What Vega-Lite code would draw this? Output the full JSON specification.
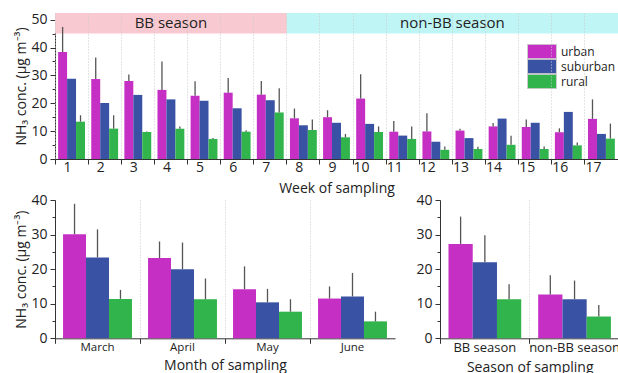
{
  "$schema": "https://vega.github.io/schema/vega-lite/v6.json",
  "padding": {"left": 14, "top": 12, "right": 0, "bottom": 0},
  "background": "white",
  "datasets": {
    "weekly": [
      {"week": 1, "site": "urban", "value": 38.4, "upper": 47.4},
      {"week": 1, "site": "suburban", "value": 28.8, "upper": null},
      {"week": 1, "site": "rural", "value": 13.4, "upper": 15.7},
      {"week": 2, "site": "urban", "value": 28.7, "upper": 36.4},
      {"week": 2, "site": "suburban", "value": 20.1, "upper": null},
      {"week": 2, "site": "rural", "value": 10.9, "upper": 15.7},
      {"week": 3, "site": "urban", "value": 28.0, "upper": 30.3},
      {"week": 3, "site": "suburban", "value": 23.0, "upper": null},
      {"week": 3, "site": "rural", "value": 9.7, "upper": 9.9},
      {"week": 4, "site": "urban", "value": 24.8, "upper": 35.0},
      {"week": 4, "site": "suburban", "value": 21.4, "upper": null},
      {"week": 4, "site": "rural", "value": 10.9, "upper": 11.7},
      {"week": 5, "site": "urban", "value": 22.7, "upper": 27.9},
      {"week": 5, "site": "suburban", "value": 20.9, "upper": null},
      {"week": 5, "site": "rural", "value": 7.2, "upper": 7.5},
      {"week": 6, "site": "urban", "value": 23.8, "upper": 29.1},
      {"week": 6, "site": "suburban", "value": 18.2, "upper": null},
      {"week": 6, "site": "rural", "value": 9.8, "upper": 10.3},
      {"week": 7, "site": "urban", "value": 23.1, "upper": 28.0},
      {"week": 7, "site": "suburban", "value": 21.1, "upper": null},
      {"week": 7, "site": "rural", "value": 16.7, "upper": 25.4},
      {"week": 8, "site": "urban", "value": 14.6, "upper": 18.1},
      {"week": 8, "site": "suburban", "value": 12.1, "upper": null},
      {"week": 8, "site": "rural", "value": 10.4, "upper": 14.2},
      {"week": 9, "site": "urban", "value": 15.0, "upper": 17.5},
      {"week": 9, "site": "suburban", "value": 13.0, "upper": null},
      {"week": 9, "site": "rural", "value": 7.8, "upper": 9.0},
      {"week": 10, "site": "urban", "value": 21.7, "upper": 30.4},
      {"week": 10, "site": "suburban", "value": 12.6, "upper": null},
      {"week": 10, "site": "rural", "value": 9.7, "upper": 11.7},
      {"week": 11, "site": "urban", "value": 9.8, "upper": 13.6},
      {"week": 11, "site": "suburban", "value": 8.4, "upper": null},
      {"week": 11, "site": "rural", "value": 7.2, "upper": 11.7},
      {"week": 12, "site": "urban", "value": 9.9, "upper": 16.4},
      {"week": 12, "site": "suburban", "value": 6.2, "upper": null},
      {"week": 12, "site": "rural", "value": 3.3, "upper": 4.5},
      {"week": 13, "site": "urban", "value": 10.2, "upper": 10.9},
      {"week": 13, "site": "suburban", "value": 7.5, "upper": null},
      {"week": 13, "site": "rural", "value": 3.6, "upper": 4.4},
      {"week": 14, "site": "urban", "value": 11.7, "upper": 12.9},
      {"week": 14, "site": "suburban", "value": 14.5, "upper": null},
      {"week": 14, "site": "rural", "value": 5.1, "upper": 8.3},
      {"week": 15, "site": "urban", "value": 11.5, "upper": 14.2},
      {"week": 15, "site": "suburban", "value": 13.0, "upper": null},
      {"week": 15, "site": "rural", "value": 3.6, "upper": 4.5},
      {"week": 16, "site": "urban", "value": 9.6, "upper": 11.0},
      {"week": 16, "site": "suburban", "value": 16.9, "upper": null},
      {"week": 16, "site": "rural", "value": 4.9, "upper": 5.9},
      {"week": 17, "site": "urban", "value": 14.4, "upper": 21.4},
      {"week": 17, "site": "suburban", "value": 9.0, "upper": null},
      {"week": 17, "site": "rural", "value": 7.3, "upper": 12.7}
    ],
    "monthly": [
      {"month": "March", "site": "urban", "value": 30.1, "upper": 38.9},
      {"month": "March", "site": "suburban", "value": 23.4, "upper": 31.5},
      {"month": "March", "site": "rural", "value": 11.4, "upper": 14.0},
      {"month": "April", "site": "urban", "value": 23.2, "upper": 28.0},
      {"month": "April", "site": "suburban", "value": 20.0, "upper": 27.7},
      {"month": "April", "site": "rural", "value": 11.3, "upper": 17.3},
      {"month": "May", "site": "urban", "value": 14.2, "upper": 20.8},
      {"month": "May", "site": "suburban", "value": 10.4, "upper": 14.3},
      {"month": "May", "site": "rural", "value": 7.7, "upper": 11.3},
      {"month": "June", "site": "urban", "value": 11.5, "upper": 15.0},
      {"month": "June", "site": "suburban", "value": 12.1, "upper": 18.9},
      {"month": "June", "site": "rural", "value": 4.9, "upper": 7.7}
    ],
    "seasonal": [
      {"season": "BB  season", "site": "urban", "value": 27.3, "upper": 35.2},
      {"season": "BB  season", "site": "suburban", "value": 22.0, "upper": 29.8},
      {"season": "BB  season", "site": "rural", "value": 11.3, "upper": 15.6},
      {"season": "non-BB season", "site": "urban", "value": 12.7, "upper": 18.2},
      {"season": "non-BB season", "site": "suburban", "value": 11.3, "upper": 16.7},
      {"season": "non-BB season", "site": "rural", "value": 6.3, "upper": 9.6}
    ]
  },
  "config": {
    "view": {"stroke": null},
    "font": "Open Sans",
    "axis": {
      "labelFont": "Open Sans",
      "titleFont": "Open Sans",
      "labelColor": "#222",
      "titleColor": "#222",
      "domainColor": "#333",
      "tickColor": "#333",
      "titleFontWeight": "normal",
      "labelFontSize": 14,
      "titleFontSize": 14,
      "tickSize": 5
    }
  },
  "resolve": {"scale": {"color": "independent", "xOffset": "independent"}},
  "spacing": -2,
  "vconcat": [
    {
      "width": 563,
      "height": 146,
      "resolve": {"scale": {"y": "independent"}, "axis": {"y": "independent"}},
      "layer": [
        {
          "data": {"values": [{"season": "BB", "week": 1, "weekEnd": 7}, {"season": "non-BB", "week": 8, "weekEnd": 17}]},
          "mark": {"type": "rect"},
          "encoding": {
            "x": {"field": "week", "type": "ordinal", "bandPosition": 0},
            "x2": {"field": "weekEnd", "bandPosition": 1},
            "y": {"datum": 45, "type": "quantitative", "scale": {"domain": [0, 52.4], "nice": false}, "axis": null},
            "y2": {"datum": 52.4},
            "fill": {"field": "season", "type": "nominal", "scale": {"domain": ["BB", "non-BB"], "range": ["#F9C9D1", "#BFF5F5"]}, "legend": null}
          }
        },
        {
          "data": {"name": "weekly"},
          "mark": {"type": "bar"},
          "encoding": {
            "x": {
              "field": "week", "type": "ordinal",
              "scale": {"type": "band", "domain": [1,2,3,4,5,6,7,8,9,10,11,12,13,14,15,16,17], "paddingInner": 0, "paddingOuter": 0},
              "axis": {
                "title": "Week of sampling", "labelAngle": 0, "bandPosition": 0,
                "grid": true, "gridDash": [1, 2], "gridColor": "#c8c8c8", "labelPadding": 3, "titlePadding": 7
              }
            },
            "xOffset": {"field": "site", "type": "nominal", "sort": ["urban", "suburban", "rural"], "scale": {"paddingOuter": 0.35, "paddingInner": 0}},
            "y": {
              "field": "value", "type": "quantitative",
              "scale": {"domain": [0, 52.4], "nice": false},
              "axis": {
                "title": "NH₃ conc. (μg m⁻³)", "values": [0,10,20,30,40,50], "labelOverlap": false,
                "grid": false, "titlePadding": 2, "labelPadding": 3
              }
            },
            "color": {
              "field": "site", "type": "nominal",
              "scale": {"domain": ["urban", "suburban", "rural"], "range": ["#C62FC4", "#3A52A3", "#31B44B"]},
              "legend": {
                "orient": "none", "legendX": 472, "legendY": 31, "title": null,
                "symbolType": "M-1,-1.2H3.83V1.2H-1Z", "symbolSize": 144, "symbolStrokeColor": "#cccccc", "symbolStrokeWidth": 1,
                "labelFontSize": 12, "labelFont": "Open Sans", "labelColor": "#222", "rowPadding": 0, "clipHeight": 15, "labelOffset": 21
              }
            }
          }
        },
        {
          "data": {"name": "weekly"},
          "transform": [{"filter": "datum.upper != null"}],
          "mark": {"type": "rule", "color": "#555555", "strokeWidth": 1.3},
          "encoding": {
            "x": {"field": "week", "type": "ordinal"},
            "xOffset": {"field": "site", "type": "nominal", "sort": ["urban", "suburban", "rural"]},
            "y": {
              "field": "value", "type": "quantitative",
              "scale": {"domain": [0, 52.4], "nice": false},
              "axis": {"orient": "left", "title": null, "values": [5,15,25,35,45], "labels": false, "domain": false, "tickSize": 3, "grid": false}
            },
            "y2": {"field": "upper"}
          }
        },
        {
          "data": {"values": [{"week": 4, "label": "BB  season"}]},
          "mark": {"type": "text", "fontSize": 15, "font": "Open Sans", "color": "#222"},
          "encoding": {
            "x": {"field": "week", "type": "ordinal", "bandPosition": 0.5},
            "y": {"datum": 48.7, "type": "quantitative", "scale": {"domain": [0, 52.4], "nice": false}, "axis": null},
            "text": {"field": "label"}
          }
        },
        {
          "data": {"values": [{"week": 12, "label": "non-BB season"}]},
          "mark": {"type": "text", "fontSize": 15, "font": "Open Sans", "color": "#222"},
          "encoding": {
            "x": {"field": "week", "type": "ordinal", "bandPosition": 1},
            "y": {"datum": 48.7, "type": "quantitative", "scale": {"domain": [0, 52.4], "nice": false}, "axis": null},
            "text": {"field": "label"}
          }
        }
      ]
    },
    {
      "spacing": 20,
      "resolve": {"scale": {"xOffset": "independent"}},
      "hconcat": [
        {
          "width": 340,
          "height": 138.3,
          "data": {"name": "monthly"},
          "resolve": {"scale": {"y": "independent"}, "axis": {"y": "independent"}},
          "layer": [
            {
              "mark": {"type": "bar"},
              "encoding": {
                "x": {
                  "field": "month", "type": "ordinal", "sort": ["March", "April", "May", "June"],
                  "scale": {"type": "band", "paddingInner": 0, "paddingOuter": 0},
                  "axis": {
                    "title": "Month of sampling", "labelAngle": 0, "bandPosition": 0,
                    "grid": true, "gridDash": [1, 2], "gridColor": "#c8c8c8", "labelFontSize": 11.5, "titleFontSize": 14,
                    "labelPadding": -2, "titlePadding": 6
                  }
                },
                "xOffset": {"field": "site", "type": "nominal", "sort": ["urban", "suburban", "rural"], "scale": {"paddingOuter": 0.35, "paddingInner": 0}},
                "y": {
                  "field": "value", "type": "quantitative",
                  "scale": {"domain": [0, 40], "nice": false},
                  "axis": {
                    "title": "NH₃ conc. (μg m⁻³)", "values": [0,10,20,30,40], "labelOverlap": false,
                    "grid": false, "titlePadding": 2, "labelPadding": 3
                  }
                },
                "color": {
                  "field": "site", "type": "nominal",
                  "scale": {"domain": ["urban", "suburban", "rural"], "range": ["#C62FC4", "#3A52A3", "#31B44B"]},
                  "legend": null
                }
              }
            },
            {
              "mark": {"type": "rule", "color": "#555555", "strokeWidth": 1.3},
              "encoding": {
                "x": {"field": "month", "type": "ordinal", "sort": ["March", "April", "May", "June"]},
                "xOffset": {"field": "site", "type": "nominal", "sort": ["urban", "suburban", "rural"]},
                "y": {
                  "field": "value", "type": "quantitative",
                  "scale": {"domain": [0, 40], "nice": false},
                  "axis": {"orient": "left", "title": null, "values": [5,15,25,35], "labels": false, "domain": false, "tickSize": 3, "grid": false}
                },
                "y2": {"field": "upper"}
              }
            }
          ]
        },
        {
          "width": 179.4,
          "height": 138.3,
          "data": {"name": "seasonal"},
          "resolve": {"scale": {"y": "independent"}, "axis": {"y": "independent"}},
          "layer": [
            {
              "mark": {"type": "bar"},
              "encoding": {
                "x": {
                  "field": "season", "type": "ordinal", "sort": ["BB  season", "non-BB season"],
                  "scale": {"type": "band", "paddingInner": 0, "paddingOuter": 0},
                  "axis": {
                    "title": "Season of sampling", "labelAngle": 0, "bandPosition": 0,
                    "grid": true, "gridDash": [1, 2], "gridColor": "#c8c8c8", "labelFontSize": 13, "titleFontSize": 14,
                    "labelPadding": -2, "titlePadding": 6
                  }
                },
                "xOffset": {"field": "site", "type": "nominal", "sort": ["urban", "suburban", "rural"], "scale": {"paddingOuter": 0.35, "paddingInner": 0}},
                "y": {
                  "field": "value", "type": "quantitative",
                  "scale": {"domain": [0, 40], "nice": false},
                  "axis": {
                    "title": null, "values": [0,10,20,30,40], "labelOverlap": false,
                    "grid": false, "labelPadding": 3
                  }
                },
                "color": {
                  "field": "site", "type": "nominal",
                  "scale": {"domain": ["urban", "suburban", "rural"], "range": ["#C62FC4", "#3A52A3", "#31B44B"]},
                  "legend": null
                }
              }
            },
            {
              "mark": {"type": "rule", "color": "#555555", "strokeWidth": 1.3},
              "encoding": {
                "x": {"field": "season", "type": "ordinal", "sort": ["BB  season", "non-BB season"]},
                "xOffset": {"field": "site", "type": "nominal", "sort": ["urban", "suburban", "rural"]},
                "y": {
                  "field": "value", "type": "quantitative",
                  "scale": {"domain": [0, 40], "nice": false},
                  "axis": {"orient": "left", "title": null, "values": [5,15,25,35], "labels": false, "domain": false, "tickSize": 3, "grid": false}
                },
                "y2": {"field": "upper"}
              }
            }
          ]
        }
      ]
    }
  ]
}
